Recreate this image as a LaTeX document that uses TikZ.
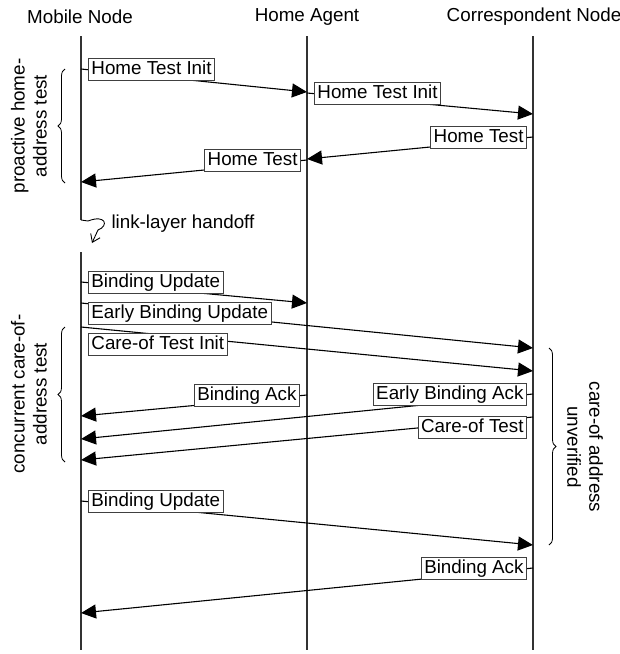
\documentclass[tikz,border=0pt]{standalone}
\usepackage{fontspec}
\setmainfont{Liberation Sans}
\usetikzlibrary{arrows.meta, positioning, decorations.pathreplacing}

\begin{document}
\begin{tikzpicture}[x = 1pt, y = -1pt, > = {Triangle[length=15pt, width=14pt]},
    every node/.style = {font=\fontsize{18.8}{22}\selectfont},
    life/.style = {line width=1.3pt, draw=black!80},
    msg/.style = {->, line width=1.1pt},
    lbl/.style = {draw=black!75, fill=white, line width=0.9pt, inner xsep=3pt, inner ysep=2.5pt, text height=13.5pt, text depth=3.5pt},
    brc/.style = {decorate, decoration={brace, amplitude=7pt}, line width=0.8pt},
    handoff/.style = {-{Straight Barb[angle=70:9pt]}, line width=0.9pt}]
    \useasboundingbox (0, 0) rectangle (620, 654);

    % lifelines
    \node (mnhead) at (80, 17) {Mobile Node};
    \node (hahead) at (307, 17) {Home Agent};
    \node (cnhead) at (534, 17) {Correspondent Node};
    \coordinate (mntop) at (81, 36);
    \coordinate (mnhand) at (81, 220);
    \coordinate (mnback) at (92, 243);
    \coordinate (mnlow) at (81, 252);
    \coordinate (mnend) at (81, 650);
    \coordinate (hatop) at (307, 36);
    \coordinate (haend) at (307, 650);
    \coordinate (cntop) at (533, 36);
    \coordinate (cnend) at (533, 650);
    \draw[life] (mntop) -- (mnhand);
    \draw[life] (mnlow) -- (mnend);
    \draw[life] (hatop) -- (haend);
    \draw[life] (cntop) -- (cnend);
    \draw[handoff] (mnhand) -- (88, 221) .. controls (106, 214) and (109, 226) .. (98, 230) -- (mnback);
    \node[anchor=west] (handtxt) at (108, 224) {link-layer handoff};

    % message end points
    \coordinate (mn1) at (81, 69);   \coordinate (ha1) at (307, 92);
    \coordinate (ha2) at (307, 93);  \coordinate (cn2) at (533, 114);
    \coordinate (cn3) at (533, 137); \coordinate (ha3) at (307, 159);
    \coordinate (ha4) at (307, 160); \coordinate (mn4) at (81, 182);
    \coordinate (mn5) at (81, 282);  \coordinate (ha5) at (307, 303);
    \coordinate (mn6) at (81, 303);  \coordinate (cn6) at (533, 348);
    \coordinate (mn7) at (81, 327);  \coordinate (cn7) at (533, 371);
    \coordinate (ha8) at (307, 395); \coordinate (mn8) at (81, 416);
    \coordinate (cn9) at (533, 394); \coordinate (mn9) at (81, 439);
    \coordinate (cn10) at (533, 417); \coordinate (mn10) at (81, 460);
    \coordinate (mn11) at (81, 501); \coordinate (cn11) at (533, 545);
    \coordinate (cn12) at (533, 568); \coordinate (mn12) at (81, 613);

    % messages
    \draw[msg] (mn1) -- (ha1);
    \draw[msg] (ha2) -- (cn2);
    \draw[msg] (cn3) -- (ha3);
    \draw[msg] (ha4) -- (mn4);
    \draw[msg] (mn5) -- (ha5);
    \draw[msg] (mn6) -- (cn6);
    \draw[msg] (mn7) -- (cn7);
    \draw[msg] (ha8) -- (mn8);
    \draw[msg] (cn9) -- (mn9);
    \draw[msg] (cn10) -- (mn10);
    \draw[msg] (mn11) -- (cn11);
    \draw[msg] (cn12) -- (mn12);

    \node[lbl, right=7pt of mn1] (hti1) {Home Test Init};
    \node[lbl, right=7pt of ha2] (hti2) {Home Test Init};
    \node[lbl, left=6pt of cn3] (ht1) {Home Test};
    \node[lbl, left=6pt of ha4] (ht2) {Home Test};
    \node[lbl, right=7pt of mn5] (bu1) {Binding Update};
    \node[lbl, right=7pt of mn6, yshift=-10pt] (ebu) {Early Binding Update};
    \node[lbl, right=7pt of mn7, yshift=-17.5pt] (coti) {Care-of Test Init};
    \node[lbl, left=7pt of ha8] (ba1) {Binding Ack};
    \node[lbl, left=6pt of cn9] (eba) {Early Binding Ack};
    \node[lbl, left=6pt of cn10, yshift=-10pt] (cot) {Care-of Test};
    \node[lbl, right=7pt of mn11] (bu2) {Binding Update};
    \node[lbl, left=6pt of cn12] (ba2) {Binding Ack};

    % braces
    \coordinate (hbot) at (65, 183);  \coordinate (htop) at (65, 69);
    \coordinate (cbot) at (65, 462);  \coordinate (ctop) at (65, 327);
    \coordinate (utop) at (549, 348); \coordinate (ubot) at (549, 545);
    \draw[brc] (hbot) -- (htop);
    \draw[brc] (cbot) -- (ctop);
    \draw[brc] (utop) -- (ubot);
    \node[rotate=90, align=center] (hometxt) at (29, 126) {proactive home-\\address test};
    \node[rotate=90, align=center] (coatxt) at (29, 394) {concurrent care-of-\\address test};
    \node[rotate=-90, align=center] (unvtxt) at (585, 447) {care-of address\\unverified};
\end{tikzpicture}
\end{document}
